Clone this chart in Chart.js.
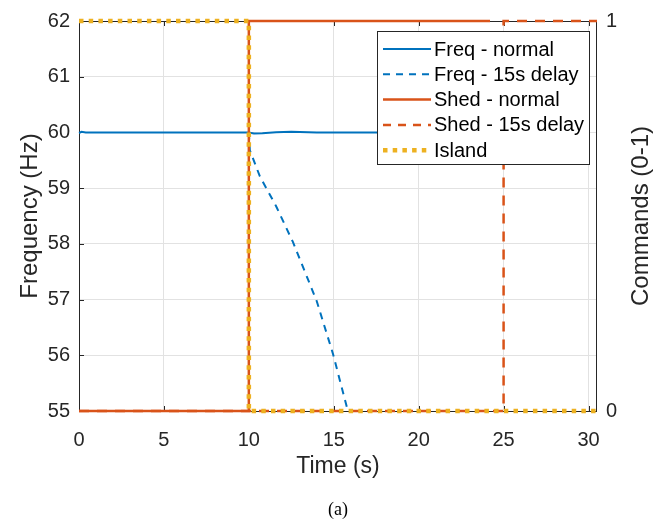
<!DOCTYPE html>
<html>
<head>
<meta charset="utf-8">
<script src="https://cdn.jsdelivr.net/npm/chart.js@4.4.1/dist/chart.umd.min.js"></script>
<style>
  html, body { margin: 0; padding: 0; background: #fff; }
</style>
</head>
<body>
<canvas id="chart" width="667" height="520"></canvas>
<script>
// values (time in s)
const freqNormalT = [0, 0.15, 0.4, 10, 10.3, 10.8, 11.6, 12.5, 14, 24.2];
const freqNormalV = [59.99, 60.01, 60.0, 60.0, 59.98, 59.985, 60.005, 60.01, 60.0, 60.0];
const freqDelayT = [10, 10.06, 10.65, 11.6, 12.6, 14.0, 14.96, 15.83];
const freqDelayV = [60, 59.68, 59.21, 58.68, 58.03, 56.97, 56.02, 55.0];
const shedNormalT = [0, 10, 10, 24.2];
const shedNormalV = [0, 0, 1, 1];
const shedDelayT = [0, 25, 25, 30.5];
const shedDelayV = [0, 0, 1, 1];
const islandT = [0, 10, 10, 30.5];
const islandV = [1, 1, 0, 0];

// tick labels
const timeTicks = [0, 5, 10, 15, 20, 25, 30];
const freqTicks = [55, 56, 57, 58, 59, 60, 61, 62];
const cmdTicks = [0, 1];

const BLUE = "#0072BD";
const ORANGE = "#D95319";
const YELLOW = "#EDB120";
const AXIS = "#262626";
const GRID = "#e2e2e2";
const SANS = "'Liberation Sans', Arial, Helvetica, sans-serif";

const pts = (t, v) => t.map((x, i) => ({ x: x, y: v[i] }));

// box, inward ticks, legend inside the axes, right label and caption
const matlabLook = {
  id: "matlabLook",
  beforeDatasetsDraw(chart) {
    const { ctx, chartArea: a, scales } = chart;
    ctx.save();
    ctx.strokeStyle = AXIS;
    ctx.lineWidth = 1;
    ctx.strokeRect(a.left + 0.5, a.top + 0.5, a.right - a.left - 1, a.bottom - a.top);
    ctx.beginPath();
    timeTicks.forEach(v => {
      const px = Math.round(scales.x.getPixelForValue(v)) + 0.5;
      ctx.moveTo(px, a.bottom); ctx.lineTo(px, a.bottom - 5);
      ctx.moveTo(px, a.top); ctx.lineTo(px, a.top + 5);
    });
    freqTicks.forEach(v => {
      const py = Math.round(scales.y.getPixelForValue(v)) + 0.5;
      ctx.moveTo(a.left, py); ctx.lineTo(a.left + 5, py);
    });
    cmdTicks.forEach(v => {
      const py = Math.round(scales.y2.getPixelForValue(v)) + 0.5;
      ctx.moveTo(a.right, py); ctx.lineTo(a.right - 5, py);
    });
    ctx.stroke();
    ctx.restore();
  },
  afterDatasetsDraw(chart) {
    const { ctx } = chart;
    const bx = 377.5, by = 31.5, bw = 212, bh = 133;
    ctx.save();
    ctx.fillStyle = "#fff";
    ctx.fillRect(bx, by, bw, bh);
    ctx.strokeStyle = AXIS;
    ctx.lineWidth = 1;
    ctx.strokeRect(bx, by, bw, bh);
    ctx.font = "20px " + SANS;
    ctx.textBaseline = "middle";
    ctx.textAlign = "left";
    chart.data.datasets.forEach((ds, i) => {
      const yy = 49 + i * 25.3;
      ctx.strokeStyle = ds.borderColor;
      ctx.lineWidth = ds.borderWidth;
      ctx.setLineDash(ds.legendDash || []);
      ctx.beginPath();
      ctx.moveTo(383, yy);
      ctx.lineTo(431, yy);
      ctx.stroke();
      ctx.setLineDash([]);
      ctx.fillStyle = "#000";
      ctx.fillText(ds.label, 434, yy + 1);
    });
    ctx.restore();
  },
  afterDraw(chart) {
    const { ctx, chartArea: a } = chart;
    ctx.save();
    ctx.fillStyle = AXIS;
    ctx.font = "24px " + SANS;
    ctx.textAlign = "center";
    ctx.textBaseline = "middle";
    ctx.translate(641, (a.top + a.bottom) / 2);
    ctx.rotate(-Math.PI / 2);
    ctx.fillText("Commands (0-1)", 0, 0);
    ctx.restore();

    ctx.save();
    ctx.fillStyle = "#000";
    ctx.font = "18px 'Liberation Serif', 'Times New Roman', serif";
    ctx.textAlign = "center";
    ctx.textBaseline = "middle";
    ctx.fillText("(a)", (a.left + a.right) / 2, 510);
    ctx.restore();
  }
};

new Chart(document.getElementById("chart").getContext("2d"), {
  type: "line",
  data: {
    datasets: [
      {
        label: "Freq - normal",
        data: pts(freqNormalT, freqNormalV),
        yAxisID: "y",
        borderColor: BLUE,
        borderWidth: 2,
        order: 4,
      },
      {
        label: "Freq - 15s delay",
        data: pts(freqDelayT, freqDelayV),
        yAxisID: "y",
        borderColor: BLUE,
        borderWidth: 2,
        borderDash: [7, 6],
        legendDash: [7, 6],
        order: 3,
      },
      {
        label: "Shed - normal",
        data: pts(shedNormalT, shedNormalV),
        yAxisID: "y2",
        borderColor: ORANGE,
        borderWidth: 2.5,
        order: 2,
      },
      {
        label: "Shed - 15s delay",
        data: pts(shedDelayT, shedDelayV),
        yAxisID: "y2",
        borderColor: ORANGE,
        borderWidth: 2.5,
        borderDash: [10, 8],
        legendDash: [8, 7],
        order: 1,
      },
      {
        label: "Island",
        data: pts(islandT, islandV),
        yAxisID: "y2",
        borderColor: YELLOW,
        borderWidth: 4.5,
        borderDash: [4.5, 5.2],
        legendDash: [4.5, 5.2],
        order: 0,
      },
    ],
  },
  options: {
    responsive: false,
    animation: false,
    devicePixelRatio: 1,
    datasets: { line: { clip: 8 } },
    elements: {
      point: { radius: 0, hoverRadius: 0 },
      line: { tension: 0, fill: false, borderCapStyle: "butt", borderJoinStyle: "miter" },
    },
    layout: { padding: { top: 16, left: 0, right: 0, bottom: 0 } },
    plugins: {
      legend: { display: false },
      tooltip: { enabled: false },
    },
    scales: {
      x: {
        type: "linear",
        min: 0,
        max: 30.5,
        afterBuildTicks: s => { s.ticks = timeTicks.map(v => ({ value: v })); },
        afterFit: s => { s.height = 109; },
        ticks: { font: { size: 20, family: SANS }, color: AXIS, padding: 17, maxRotation: 0 },
        grid: { color: GRID, drawTicks: false },
        border: { display: false },
        title: {
          display: true,
          text: "Time (s)",
          color: AXIS,
          font: { size: 23, family: SANS },
          padding: { top: 0, bottom: 40 },
        },
      },
      y: {
        position: "left",
        min: 55,
        max: 62,
        afterBuildTicks: s => { s.ticks = freqTicks.map(v => ({ value: v })); },
        afterFit: s => { s.width = 79; },
        ticks: { font: { size: 20, family: SANS }, color: AXIS, padding: 9 },
        grid: { color: GRID, drawTicks: false },
        border: { display: false },
        title: {
          display: true,
          text: "Frequency (Hz)",
          color: AXIS,
          font: { size: 24, family: SANS },
          padding: { top: 16, bottom: 0 },
        },
      },
      y2: {
        position: "right",
        min: 0,
        max: 1,
        afterBuildTicks: s => { s.ticks = cmdTicks.map(v => ({ value: v })); },
        afterFit: s => { s.width = 70; },
        ticks: { font: { size: 20, family: SANS }, color: AXIS, padding: 9 },
        grid: { drawOnChartArea: false, drawTicks: false },
        border: { display: false },
      },
    },
  },
  plugins: [matlabLook],
});
</script>
</body>
</html>
